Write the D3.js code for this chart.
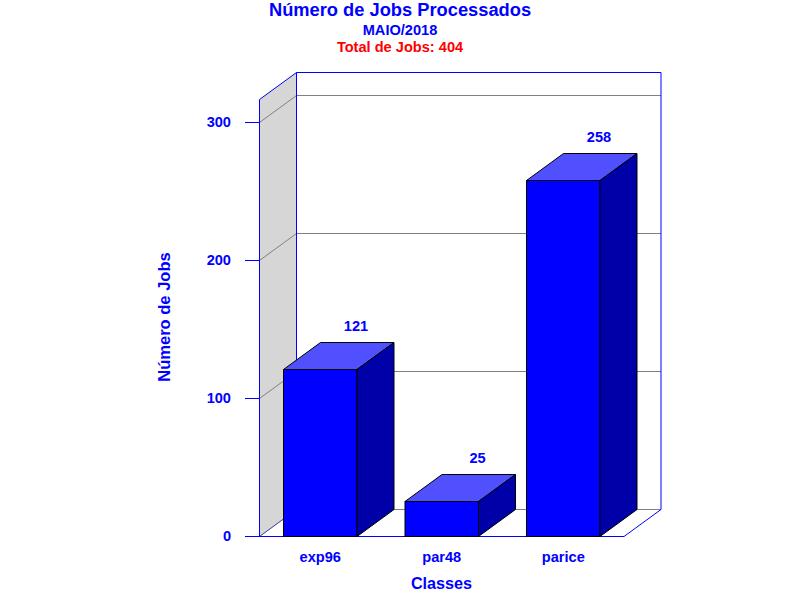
<!DOCTYPE html>
<html><head><meta charset="utf-8">
<script src="https://cdn.jsdelivr.net/npm/d3@7/dist/d3.min.js"></script>
<style>
html,body{margin:0;padding:0;background:#fff}
svg{display:block}
text{font-family:"Liberation Sans",Arial,sans-serif;font-weight:bold}
</style></head><body>
<svg id="c" width="800" height="600"></svg>
<script>
const categories = ["exp96","par48","parice"];
const jobs = [121,25,258];
const yTicks = [0,100,200,300];
const titleText = "Número de Jobs Processados";
const subtitleText = "MAIO/2018";
const totalText = "Total de Jobs: 404";
const yLabel = "Número de Jobs";
const xLabel = "Classes";

const svg = d3.select("#c");
const blue = "#0000ff", gray = "#808080";
const depthX = 37, depthY = -27;
const y = d3.scaleLinear().domain([0,300]).range([536.5,122.5]);
const yMax = 316.67;
const x = d3.scaleBand().domain(categories).range([259.5,624]).paddingInner(0.395).paddingOuter(0.1975);
const x0 = x.range()[0], x1 = x.range()[1];
const poly = pts => pts.map(p=>p.join(",")).join(" ");
const py = v => Math.floor(y(v))+.5;

// side wall
svg.append("polygon")
  .attr("points", poly([[x0,py(yMax)],[x0+depthX,py(yMax)+depthY],[x0+depthX,py(0)+depthY],[x0,py(0)]]))
  .attr("fill","#d6d6d6").attr("stroke","none");

// gridlines
const grid = svg.append("g").attr("fill","none").attr("stroke",gray);
yTicks.forEach(t=>{
  grid.append("path").attr("d",`M${x0},${py(t)}L${x0+depthX},${py(t)+depthY}`);
  grid.append("path").attr("d",`M${x0+depthX},${py(t)+depthY}H${x1+depthX}`);
});

// frame
const frame = svg.append("g").attr("fill","none").attr("stroke",blue);
frame.append("path").attr("d",
  `M${x0},${py(0)}V${py(yMax)}L${x0+depthX},${py(yMax)+depthY}H${x1+depthX}V${py(0)+depthY}L${x1},${py(0)}`);
frame.append("path").attr("d",`M${x0+depthX},${py(yMax)+depthY}V${py(0)+depthY}`);
frame.append("path").attr("d",`M${x0},${py(0)}L${x0+depthX},${py(0)+depthY}`).attr("stroke-opacity",.45);

// y axis
const yAxis = svg.append("g").attr("transform",`translate(${x0},0)`)
  .call(d3.axisLeft(y).tickValues(yTicks).tickSize(14.5).tickPadding(14).tickFormat(d3.format("d")));
yAxis.select(".domain").remove();
yAxis.selectAll(".tick").attr("transform",d=>`translate(0,${py(d)})`);
yAxis.selectAll("line").attr("stroke",blue);
yAxis.selectAll("text").attr("fill",blue).style("font-size","14.6px");

// x axis
const xAxis = svg.append("g").attr("transform",`translate(0,${py(0)})`)
  .call(d3.axisBottom(x).tickSize(0).tickPadding(12));
xAxis.select(".domain").attr("stroke",blue).attr("d",`M${x0-14.5},0H${x1}`);
xAxis.selectAll("text").attr("fill",blue).attr("dy","0.9em").style("font-size","14.6px");

// bars
const rows = categories.map((c,i)=>({c,v:jobs[i]}));
const bars = svg.append("g").selectAll("g").data(rows).join("g")
  .attr("stroke","#000").attr("stroke-width",1).attr("stroke-linejoin","miter");
const w = x.bandwidth();
bars.append("rect").attr("x",d=>x(d.c)).attr("y",d=>py(d.v)).attr("width",w).attr("height",d=>py(0)-py(d.v)).attr("fill","#0000ff");
bars.append("polygon").attr("fill","#5050ff")
  .attr("points",d=>poly([[x(d.c),py(d.v)],[x(d.c)+depthX,py(d.v)+depthY],[x(d.c)+w+depthX,py(d.v)+depthY],[x(d.c)+w,py(d.v)]]));
bars.append("polygon").attr("fill","#0000a8")
  .attr("points",d=>poly([[x(d.c)+w,py(d.v)],[x(d.c)+w+depthX,py(d.v)+depthY],[x(d.c)+w+depthX,py(0)+depthY],[x(d.c)+w,py(0)]]));
svg.append("g").selectAll("text").data(rows).join("text")
  .attr("x",d=>x(d.c)+w/2+depthX-1.2).attr("y",d=>py(d.v)+depthY-12)
  .attr("text-anchor","middle").attr("fill",blue).style("font-size","14.6px").text(d=>d.v);

// titles
const T=(s,px,py,size,col)=>svg.append("text").attr("x",px).attr("y",py).attr("text-anchor","middle").attr("fill",col).style("font-size",size+"px").text(s);
T(titleText,400,15.5,18.3,blue);
T(subtitleText,400,35,14.6,blue);
T(totalText,400,52,14.6,"#ff0000");
T(xLabel,441.5,589,16.2,blue);
svg.append("text").attr("transform","translate(170,317) rotate(-90)").attr("text-anchor","middle").attr("fill",blue).style("font-size","16.5px").text(yLabel);
</script>
</body></html>
